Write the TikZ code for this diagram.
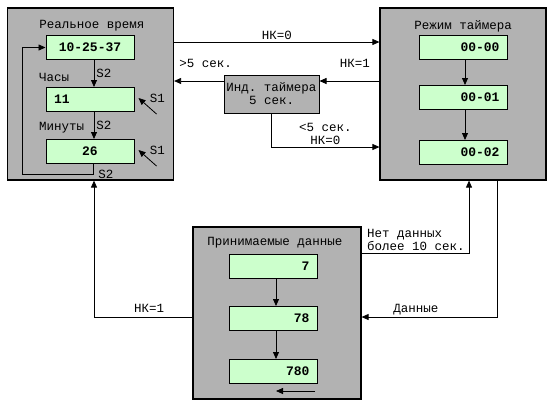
\documentclass[tikz,border=0pt]{standalone}
\usepackage{fontspec}
\setmonofont{Liberation Mono}
\usetikzlibrary{positioning}
\usetikzlibrary{arrows.meta}
\definecolor{panelgray}{RGB}{178,178,178}
\definecolor{cellgreen}{RGB}{204,255,204}

\begin{document}
\begin{tikzpicture}[x=1pt, y=-1pt,
	panel/.style={draw, fill=panelgray, line width=1.2pt, minimum width=166pt, minimum height=172pt},
	cell/.style={draw, fill=cellgreen, line width=1pt, minimum width=88pt, minimum height=24pt, inner xsep=8pt, text width=72pt, font=\ttfamily\bfseries\fontsize{13}{14}\selectfont},
	lbl/.style={font=\ttfamily\fontsize{12.5}{13}\selectfont, inner sep=2pt},
	arrow/.style={-{Triangle[length=7pt,width=6pt]}, line width=0.8pt}
	]
	\useasboundingbox (0,0) rectangle (553,405);
	
	% Panels
	\node[panel] (rt) at (90.5,94) {};
	\node[panel] (tm) at (463,94) {};
	\node[panel, minimum width=168pt] (rx) at (277,313) {};
	\node[draw, fill=panelgray, line width=1pt, minimum width=95pt, minimum height=38pt, inner sep=1pt, align=center, lbl] (ind) at (271.5,94) {Инд. таймера\\5 сек.};
	
	% Real time
	\node[lbl] (rtt) at (92,26) {Реальное время};
	\node[cell, align=center] (rnow) at (90,47.5) {10-25-37};
	\node[cell, align=left, below=27pt of rnow] (rhr) {11};
	\node[cell, align=center, below=27pt of rhr] (rmin) {26};
	\node[lbl, anchor=west] (lhr) at (37,77) {Часы};
	\node[lbl, anchor=west] (lmin) at (37,128) {Минуты};
	
	% Timer mode
	\node[lbl] (tmt) at (463,26) {Режим таймера};
	\node[cell, align=right] (tm0) at (463.5,47.5) {00-00};
	\node[cell, align=right, below=25pt of tm0] (tm1) {00-01};
	\node[cell, align=right, below=30pt of tm1] (tm2) {00-02};
	
	% Received data
	\node[lbl] (rxt) at (275,243) {Принимаемые данные};
	\node[cell, align=right] (r7) at (273.5,266.5) {7};
	\node[cell, align=right, below=27pt of r7] (r78) {78};
	\node[cell, align=right, below=28pt of r78] (r780) {780};
	
	% Inner connections
	\draw[arrow] ([xshift=4pt]rnow.south) -- node[lbl, right] (ls1) {S2} ([xshift=4pt]rhr.north);
	\draw[arrow] ([xshift=4pt]rhr.south) -- node[lbl, right] (ls2) {S2} ([xshift=4pt]rmin.north);
	\draw[arrow] ([xshift=3pt]rmin.south) -- ++(0,10) node[lbl, right=3pt] (ls3) {S2} -| ([xshift=-23pt]rnow.west) -- (rnow.west);
	\draw[arrow] ([shift={(22pt,-14.5pt)}]rhr.east) -- ([shift={(4pt,1.5pt)}]rhr.east) node[lbl, right=9pt] (lk1) {S1};
	\draw[arrow] ([shift={(22pt,-14.5pt)}]rmin.east) -- ([shift={(4pt,1.5pt)}]rmin.east) node[lbl, right=9pt] (lk2) {S1};
	\foreach \a/\b in {tm0/tm1, tm1/tm2}
	\draw[arrow] ([xshift=1.5pt]\a.south) -- ([xshift=1.5pt]\b.north);
	\foreach \a/\b in {r7/r78, r78/r780}
	\draw[arrow] ([xshift=2.5pt]\a.south) -- ([xshift=2.5pt]\b.north);
	\draw[arrow] ([shift={(41.5pt,-7pt)}]r780.south) -- ([shift={(2.5pt,-7pt)}]r780.south);
	
	% Connections between panels
	\draw[arrow] ([yshift=52pt]rt.east) -- node[lbl, above] (lnk0) {НК=0} ([yshift=52pt]tm.west);
	\draw[arrow] ([yshift=13pt]tm.west) -- node[lbl, above=11pt, pos=0.41] (lnk1) {НК=1} ([yshift=13pt]ind.east);
	\draw[arrow] ([yshift=13pt]ind.west) -- node[lbl, above=11pt, pos=0.36] (lgt) {>5 сек.} ([yshift=13pt]rt.east);
	\draw[arrow] (ind.south) |- node[lbl, above, pos=0.75, align=center] (llt) {<5 сек.\\НК=0} ([yshift=-53pt]tm.west);
	\draw[arrow] ([yshift=60pt]rx.east) -| node[lbl, anchor=south west, pos=0, xshift=3pt, align=left] (lnd) {Нет данных\\более 10 сек.} ([xshift=6pt]tm.south);
	\draw[arrow] ([xshift=34pt]tm.south) |- node[lbl, above, pos=0.8] (ld) {Данные} ([yshift=-4pt]rx.east);
	\draw[arrow] ([yshift=-4pt]rx.west) -| node[lbl, above=2pt, pos=0.22] (lrx) {НК=1} ([xshift=3.5pt]rt.south);
\end{tikzpicture}
\end{document}
